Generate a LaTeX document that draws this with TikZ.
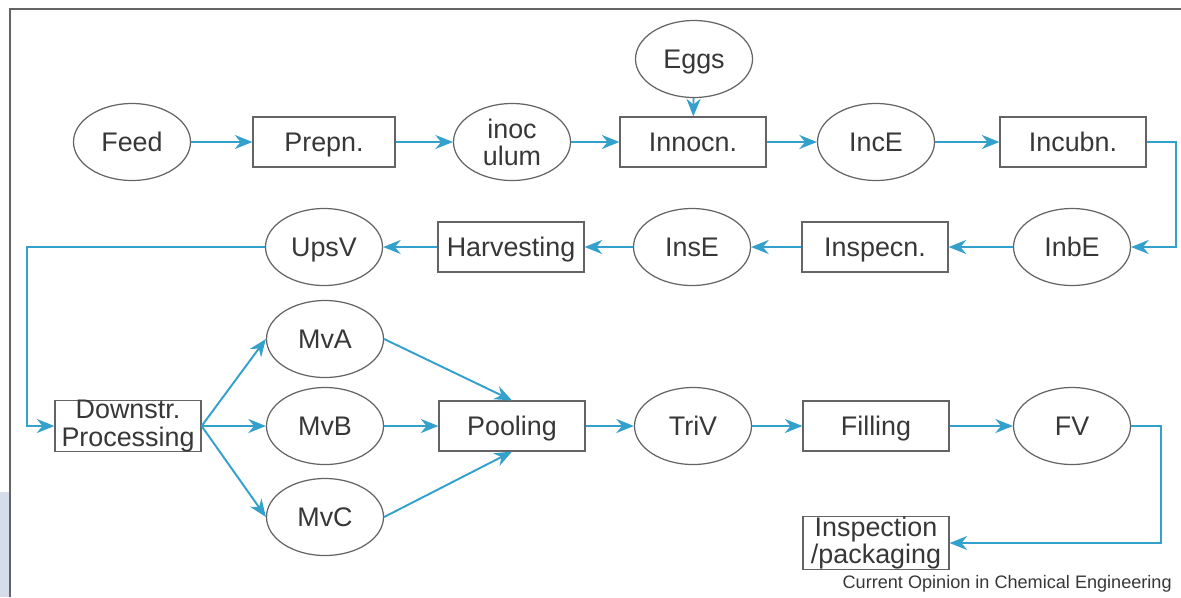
\documentclass[tikz,border=0pt]{standalone}
\usepackage{fontspec}
\setmainfont{Liberation Sans}
\usetikzlibrary{shapes.geometric,arrows.meta}
\definecolor{flowblue}{RGB}{52,160,204}
\definecolor{linegray}{RGB}{100,100,100}
\definecolor{textgray}{RGB}{55,55,55}
\definecolor{stripblue}{RGB}{214,221,234}
\begin{document}
\begin{tikzpicture}[
        vessel/.style={ellipse, draw=linegray, line width=0.7pt, minimum width=2.34cm, minimum height=1.54cm, inner sep=0pt, text=textgray, font=\fontsize{15.3}{15.5}\selectfont, align=center, text depth=0pt},
        stepbox/.style={rectangle, draw=linegray, line width=0.7pt, minimum width=2.92cm, minimum height=1cm, inner sep=0pt, text=textgray, font=\fontsize{15.3}{15.5}\selectfont, align=center, text depth=0pt},
        arrow/.style={->, >={Stealth[length=10pt,width=8pt]}, draw=flowblue, line width=1.1pt}
    ]
        \useasboundingbox (0,0) rectangle (23.62,-11.94);
        % frame
        \fill[stripblue] (0,-9.84) rectangle (0.18,-11.94);
        \draw[linegray, line width=0.9pt] (0.2,-11.94) -- (0.2,-0.18) -- (23.62,-0.18);

        % upstream row
        \node[vessel] (feed) at (2.64,-2.84) {Feed};
        \node[stepbox, minimum width=2.84cm] (prepn) at (6.48,-2.84) {Prepn.};
        \node[vessel] (inoc) at (10.24,-2.84) {inoc\\ulum};
        \node[stepbox] (innocn) at (13.86,-2.84) {Innocn.};
        \node[vessel] (eggs) at (13.88,-1.18) {Eggs};
        \node[vessel] (ince) at (17.52,-2.84) {IncE};
        \node[stepbox] (incubn) at (21.46,-2.84) {Incubn.};

        % return row
        \node[vessel] (inbe) at (21.44,-4.94) {InbE};
        \node[stepbox] (inspecn) at (17.5,-4.94) {Inspecn.};
        \node[vessel] (inse) at (13.84,-4.94) {InsE};
        \node[stepbox] (harvest) at (10.22,-4.94) {Harvesting};
        \node[vessel] (upsv) at (6.48,-4.94) {UpsV};

        % downstream
        \node[stepbox, text depth=3.2pt] (downstr) at (2.56,-8.52) {Downstr.\\Processing};
        \node[vessel] (mva) at (6.5,-6.78) {MvA};
        \node[vessel] (mvb) at (6.5,-8.52) {MvB};
        \node[vessel] (mvc) at (6.5,-10.34) {MvC};
        \node[stepbox] (pooling) at (10.24,-8.52) {Pooling};
        \node[vessel] (triv) at (13.86,-8.52) {TriV};
        \node[stepbox] (filling) at (17.52,-8.52) {Filling};
        \node[vessel] (fv) at (21.44,-8.52) {FV};
        \node[stepbox, text depth=3.2pt, minimum height=1.04cm] (inspack) at (17.52,-10.86) {Inspection\\/packaging};

        \node[anchor=east, inner sep=0pt, text=textgray, font=\fontsize{10.3}{12}\selectfont] (credit) at (23.44,-11.68) {Current Opinion in Chemical Engineering};

        \coordinate (rbend) at (23.52,-2.84);
        \coordinate (lbend) at (0.54,-4.94);
        \coordinate (fbend) at (23.22,-8.52);

        \draw[arrow] (feed) -- (prepn);
        \draw[arrow] (prepn) -- (inoc);
        \draw[arrow] (inoc) -- (innocn);
        \draw[arrow] (eggs) -- (innocn);
        \draw[arrow] (innocn) -- (ince);
        \draw[arrow] (ince) -- (incubn);
        \draw[arrow] (incubn.east) -- (rbend) |- (inbe.east);
        \draw[arrow] (inbe) -- (inspecn);
        \draw[arrow] (inspecn) -- (inse);
        \draw[arrow] (inse) -- (harvest);
        \draw[arrow] (harvest) -- (upsv);
        \draw[arrow] (upsv.west) -- (lbend) |- (downstr.west);
        \draw[arrow] (downstr.east) -- (mva.west);
        \draw[arrow] (downstr.east) -- (mvb.west);
        \draw[arrow] (downstr.east) -- (mvc.west);
        \draw[arrow] (mva.east) -- (pooling.north);
        \draw[arrow] (mvb) -- (pooling);
        \draw[arrow] (mvc.east) -- (pooling.south);
        \draw[arrow] (pooling) -- (triv);
        \draw[arrow] (triv) -- (filling);
        \draw[arrow] (filling) -- (fv);
        \draw[arrow] (fv.east) -- (fbend) |- (inspack.east);
    \end{tikzpicture}
\end{document}
